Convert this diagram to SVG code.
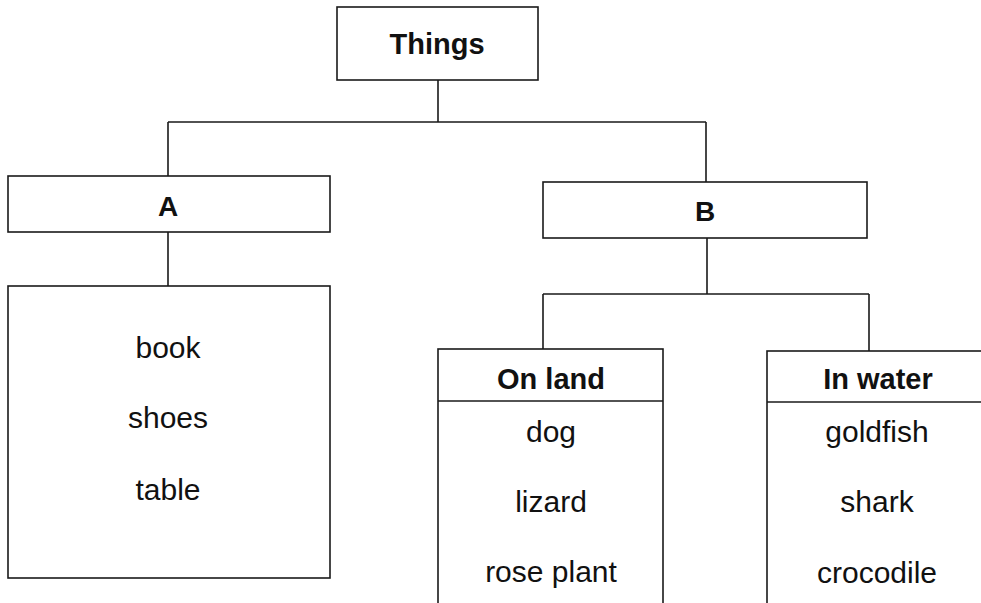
<svg xmlns="http://www.w3.org/2000/svg" width="981" height="603" viewBox="0 0 981 603">
<style>
.box{fill:#fff;stroke:#1a1a1a;stroke-width:1.6}
.ln{fill:none;stroke:#1a1a1a;stroke-width:1.6}
.t{font-family:"Liberation Sans",Arial,sans-serif;fill:#111;text-anchor:middle}
.b{font-weight:bold}
.i{font-size:30px}
</style>
<rect width="981" height="603" fill="#fff"/>
<g id="connectors">
<path class="ln" d="M438,80 V122 M168,122 H706 M168,122 V176 M706,122 V182 M168,232 V286 M707,238 V294 M543,294 H869 M543,294 V349 M869,294 V351"/>
</g>
<g id="things">
<rect class="box" x="337" y="7" width="201" height="73"/>
<text class="t b" x="437" y="54" font-size="29">Things</text>
</g>
<g id="a">
<rect class="box" x="8" y="176" width="322" height="56"/>
<text class="t b" x="168" y="216" font-size="28">A</text>
</g>
<g id="a-list">
<rect class="box" x="8" y="286" width="322" height="292"/>
<text class="t i" x="168" y="358">book</text>
<text class="t i" x="168" y="428">shoes</text>
<text class="t i" x="168" y="500">table</text>
</g>
<g id="b">
<rect class="box" x="543" y="182" width="324" height="56"/>
<text class="t b" x="705" y="221" font-size="28">B</text>
</g>
<g id="on-land">
<rect class="box" x="438" y="349" width="225" height="270"/>
<line class="ln" x1="438" y1="401" x2="663" y2="401"/>
<text class="t b" x="551" y="389" font-size="29">On land</text>
<text class="t i" x="551" y="442">dog</text>
<text class="t i" x="551" y="512">lizard</text>
<text class="t i" x="551" y="582">rose plant</text>
</g>
<g id="in-water">
<rect class="box" x="767" y="351" width="230" height="270"/>
<line class="ln" x1="767" y1="402" x2="997" y2="402" stroke-width="2.4"/>
<text class="t b" x="878" y="389" font-size="29">In water</text>
<text class="t i" x="877" y="442">goldfish</text>
<text class="t i" x="877" y="512">shark</text>
<text class="t i" x="877" y="583">crocodile</text>
</g>
</svg>
